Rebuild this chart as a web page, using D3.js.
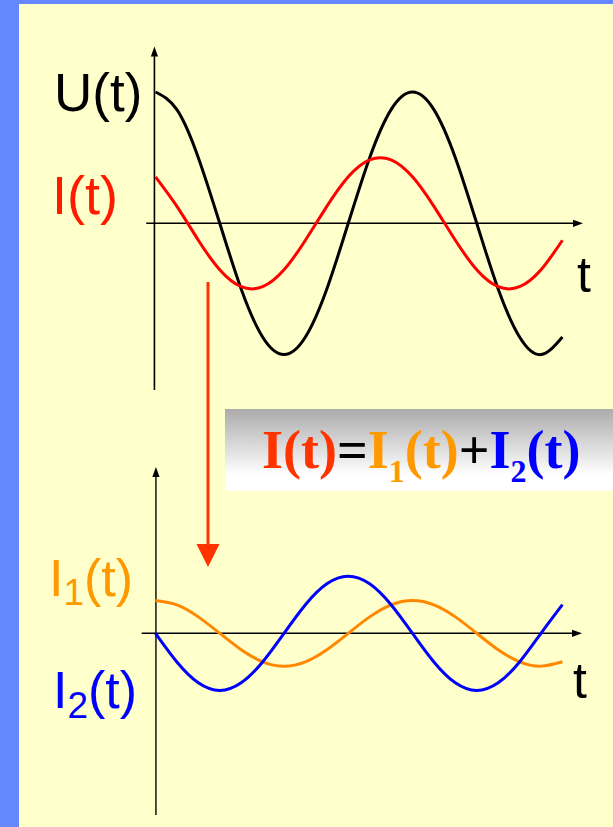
<!DOCTYPE html>
<html><head><meta charset="utf-8">
<script src="https://cdn.jsdelivr.net/npm/d3@7"></script>
<style>html,body{margin:0;padding:0;background:#ffffcc;}svg{display:block;}</style>
</head><body>
<script>
// phase angle (degrees) of the sampled points
const theta = [0,30,60,90,120,150,180,210,240,270,300,330,360,390,420,450,480,510,540,570];
// U(t) – voltage (top chart)
const uVals = [1,0.866,0.5,0,-0.5,-0.866,-1,-0.866,-0.5,0,0.5,0.866,1,0.866,0.5,0,-0.5,-0.866,-1,-0.866];
// I(t) – total current (top chart)
const iVals = [0.354,0.129,-0.129,-0.354,-0.483,-0.483,-0.354,-0.129,0.129,0.354,0.483,0.483,0.354,0.129,-0.129,-0.354,-0.483,-0.483,-0.354,-0.129];
// I1(t) – in-phase component (bottom chart)
const i1Vals = [0.25,0.217,0.125,0,-0.125,-0.217,-0.25,-0.217,-0.125,0,0.125,0.217,0.25,0.217,0.125,0,-0.125,-0.217,-0.25,-0.217];
// I2(t) – quadrature component (bottom chart)
const i2Vals = [0,-0.218,-0.377,-0.435,-0.377,-0.218,0,0.218,0.377,0.435,0.377,0.218,0,-0.218,-0.377,-0.435,-0.377,-0.218,0,0.218];

const W = 613, H = 827;
const svg = d3.select("body").append("svg").attr("width", W).attr("height", H);
const defs = svg.append("defs");
const grad = defs.append("linearGradient").attr("id","boxGrad").attr("x1",0).attr("y1",0).attr("x2",0).attr("y2",1);
grad.append("stop").attr("offset","0%").attr("stop-color","#ababab");
grad.append("stop").attr("offset","80%").attr("stop-color","#ffffff");
grad.append("stop").attr("offset","100%").attr("stop-color","#ffffff");

// background + frame
svg.append("rect").attr("width",W).attr("height",H).attr("fill","#ffffcc");
svg.append("rect").attr("x",0).attr("y",0).attr("width",19).attr("height",H).attr("fill","#6688ff");
svg.append("rect").attr("x",0).attr("y",0).attr("width",W).attr("height",4).attr("fill","#6688ff");

// scales
const x = d3.scaleLinear().domain([0,360]).range([155.5,412.5]);
const yTop = d3.scaleLinear().domain([-1,1]).range([223.3+131.3, 223.3-131.3]);
const yBot = d3.scaleLinear().domain([-1,1]).range([633.3+131.3, 633.3-131.3]);

function arrowHead(g, tipX, tipY, dir, len, half, color){
  let pts;
  if(dir==="up") pts=[[tipX,tipY],[tipX-half,tipY+len],[tipX+half,tipY+len]];
  else if(dir==="down") pts=[[tipX,tipY],[tipX-half,tipY-len],[tipX+half,tipY-len]];
  else pts=[[tipX,tipY],[tipX-len,tipY-half],[tipX-len,tipY+half]];
  g.append("path").attr("d","M"+pts.map(p=>p.join(",")).join("L")+"Z").attr("fill",color);
}

// ---------- top chart axes ----------
const gTop = svg.append("g");
const x0 = x(-1.5);
gTop.append("line").attr("x1",x0).attr("x2",x0).attr("y1",390).attr("y2",55).attr("stroke","#000").attr("stroke-width",1.6);
arrowHead(gTop, x0, 46.5, "up", 10, 3.6, "#000");
gTop.append("line").attr("x1",x(-13)).attr("x2",576).attr("y1",yTop(0)).attr("y2",yTop(0)).attr("stroke","#000").attr("stroke-width",1.6);
arrowHead(gTop, 583, yTop(0), "right", 10, 3.6, "#000");

const line = (ys, yScale) => d3.line().x((d,i)=>x(theta[i])).y(d=>yScale(d)).curve(d3.curveNatural)(ys);

gTop.append("path").attr("d", line(uVals,yTop)).attr("fill","none").attr("stroke","#000").attr("stroke-width",3);
gTop.append("path").attr("d", line(iVals,yTop)).attr("fill","none").attr("stroke","#ff0000").attr("stroke-width",3);

// ---------- bottom chart axes ----------
const gBot = svg.append("g");
gBot.append("line").attr("x1",x0+1.5).attr("x2",x0+1.5).attr("y1",815).attr("y2",476).attr("stroke","#222").attr("stroke-width",1.6);
arrowHead(gBot, x0+1.5, 467, "up", 10, 3.6, "#000");
gBot.append("line").attr("x1",141.7).attr("x2",575).attr("y1",yBot(0)).attr("y2",yBot(0)).attr("stroke","#000").attr("stroke-width",1.6);
arrowHead(gBot, 582, yBot(0), "right", 10, 3.6, "#000");

gBot.append("path").attr("d", line(i1Vals,yBot)).attr("fill","none").attr("stroke","#ff8800").attr("stroke-width",3);
gBot.append("path").attr("d", line(i2Vals,yBot)).attr("fill","none").attr("stroke","#0000ff").attr("stroke-width",3);

// ---------- red arrow ----------
svg.append("line").attr("x1",208).attr("x2",208).attr("y1",282).attr("y2",546).attr("stroke","#ff3300").attr("stroke-width",3);
arrowHead(svg, 208, 567, "down", 23, 11.5, "#ff3300");

// ---------- formula box ----------
svg.append("rect").attr("x",225).attr("y",409).attr("width",W-225).attr("height",82).attr("fill","url(#boxGrad)");
const ft = svg.append("text").attr("x",262).attr("y",468)
  .attr("font-family","'Liberation Serif','Times New Roman',serif").attr("font-weight","bold").attr("font-size",54);
ft.append("tspan").attr("fill","#ff3300").text("I(t)");
ft.append("tspan").attr("fill","#000").text("=");
ft.append("tspan").attr("fill","#ff9900").text("I");
ft.append("tspan").attr("fill","#ff9900").attr("font-size",32).attr("dy",14).text("1");
ft.append("tspan").attr("fill","#ff9900").attr("dy",-14).text("(t)");
ft.append("tspan").attr("fill","#000").text("+");
ft.append("tspan").attr("fill","#0000ff").text("I");
ft.append("tspan").attr("fill","#0000ff").attr("font-size",32).attr("dy",14).text("2");
ft.append("tspan").attr("fill","#0000ff").attr("dy",-14).text("(t)");

// ---------- labels ----------
const sans = "'Liberation Sans',Arial,sans-serif";
svg.append("text").attr("x",54).attr("y",111).attr("font-family",sans).attr("font-size",53).attr("fill","#000").text("U(t)");
svg.append("text").attr("x",52).attr("y",214).attr("font-family",sans).attr("font-size",54).attr("fill","#ff1a00").text("I(t)");
svg.append("text").attr("x",577).attr("y",292).attr("font-family",sans).attr("font-size",50).attr("fill","#000").text("t");
svg.append("text").attr("x",573).attr("y",698).attr("font-family",sans).attr("font-size",50).attr("fill","#000").text("t");

const l1 = svg.append("text").attr("x",49).attr("y",596).attr("font-family",sans).attr("font-size",52).attr("fill","#ff9900");
l1.append("tspan").text("I");
l1.append("tspan").attr("font-size",37).attr("dy",9).text("1");
l1.append("tspan").attr("dy",-9).text("(t)");
const l2 = svg.append("text").attr("x",53).attr("y",708).attr("font-family",sans).attr("font-size",52).attr("fill","#0000ff");
l2.append("tspan").text("I");
l2.append("tspan").attr("font-size",37).attr("dy",10).text("2");
l2.append("tspan").attr("dy",-10).text("(t)");
</script>
</body></html>
